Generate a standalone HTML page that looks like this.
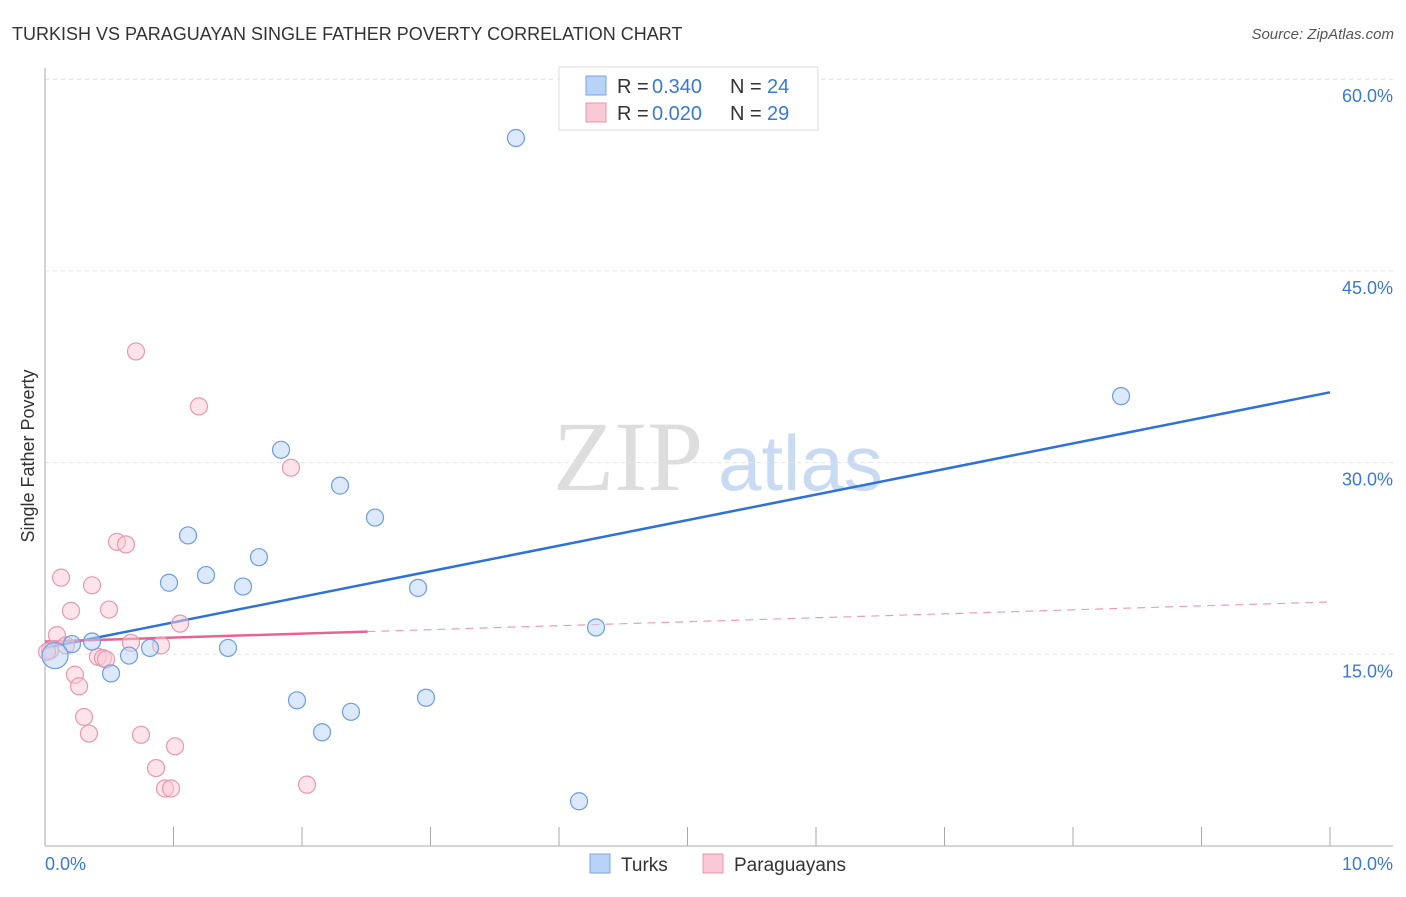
<!DOCTYPE html>
<html><head><meta charset="utf-8"><style>
body{margin:0;background:#fff;font-family:"Liberation Sans",sans-serif;}
svg text{font-family:"Liberation Sans",sans-serif;}
</style></head><body>
<svg width="1406" height="892" viewBox="0 0 1406 892">
<text x="12" y="40" font-size="18" fill="#333">TURKISH VS PARAGUAYAN SINGLE FATHER POVERTY CORRELATION CHART</text>
<text x="1394" y="39" font-size="15" fill="#555" font-style="italic" text-anchor="end">Source: ZipAtlas.com</text>
<text transform="translate(34,456) rotate(-90)" font-size="18" fill="#333" text-anchor="middle">Single Father Poverty</text>
<g id="wm"><text x="553" y="490" font-size="100" fill="#ddd" style="font-family:'Liberation Serif',serif">ZIP</text><text x="718" y="490" font-size="78" fill="#c9daf3">atlas</text></g>
<g id="grid"></g><g id="axes"></g><g id="trend"></g><g id="pts"></g>
<g>
<rect x="559" y="67" width="259" height="63" fill="#fff" stroke="#ddd"/>
<rect x="586" y="76" width="20" height="19" fill="#b8d3f5" stroke="#7aa6e0"/>
<rect x="586" y="103" width="20" height="19" fill="#f9c9d6" stroke="#e898b0"/>
<text y="93" font-size="20" fill="#333"><tspan x="617">R = </tspan><tspan x="652" fill="#3a78d8">0.340</tspan><tspan x="730">N = </tspan><tspan x="767" fill="#3a78d8">24</tspan></text>
<text y="120" font-size="20" fill="#333"><tspan x="617">R = </tspan><tspan x="652" fill="#3a78d8">0.020</tspan><tspan x="730">N = </tspan><tspan x="767" fill="#3a78d8">29</tspan></text>
</g>
<g>
<rect x="590" y="854" width="20" height="19" fill="#b8d3f5" stroke="#7aa6e0"/>
<text x="621" y="871" font-size="19" fill="#333">Turks</text>
<rect x="703" y="854" width="20" height="19" fill="#f9c9d6" stroke="#e898b0"/>
<text x="734" y="871" font-size="19" fill="#333">Paraguayans</text>
</g>
</svg>
<script>
const xTicks=[0,1,2,3,4,5,6,7,8,9,10];
const yTicks=[15,30,45,60];
const yTickLabels=["15.0%","30.0%","45.0%","60.0%"];
const xEndLabels=["0.0%","10.0%"];
const turksX=[3.665,8.374,1.837,2.296,2.568,1.113,1.665,1.253,0.965,1.541,2.903,4.288,0.366,0.210,0.817,1.424,0.654,0.514,1.961,2.965,2.381,2.156,4.156,0.078];
const turksY=[55.4,35.2,31.0,28.2,25.7,24.3,22.6,21.2,20.6,20.3,20.2,17.1,16.0,15.8,15.5,15.5,14.9,13.5,11.4,11.6,10.5,8.9,3.5,14.9];
const parX=[0.708,1.198,1.914,0.560,0.630,0.125,0.366,0.202,0.498,1.051,0.093,0.669,0.903,0.163,0.039,0.412,0.451,0.475,0.233,0.265,0.304,0.342,0.747,1.012,0.864,0.934,0.981,2.039,0.016];
const parY=[38.7,34.4,29.6,23.8,23.6,21.0,20.4,18.4,18.5,17.4,16.5,15.9,15.7,15.7,15.3,14.8,14.7,14.6,13.4,12.5,10.1,8.8,8.7,7.8,6.1,4.5,4.5,4.8,15.2];
const turksTrend=[15.5,35.5];
const parTrend=[16.0,19.1];
const parSolidEnd=2.51;
const NS="http://www.w3.org/2000/svg";
const sx=v=>45+v*128.5;
const sy=v=>846-v/0.07825;
function mk(tag,attrs,parent){const e=document.createElementNS(NS,tag);for(const k in attrs)e.setAttribute(k,attrs[k]);document.getElementById(parent).appendChild(e);return e;}
mk('line',{x1:45,y1:79,x2:1393,y2:79,stroke:'#e4e4e4','stroke-dasharray':'4,4'},'grid');
yTicks.forEach((t,i)=>{
 const g=mk('line',{x1:45,y1:sy(t),x2:1393,y2:sy(t),stroke:'#e4e4e4','stroke-dasharray':'4,4'},'grid');
 
 
 const l=mk('text',{x:1393,y:sy(t)+23,'font-size':18,fill:'#3a78d8','text-anchor':'end'},'grid');
 l.textContent=yTickLabels[i];
 
 
});
const ya=mk('line',{x1:45,y1:68,x2:45,y2:846,stroke:'#aaa'},'axes');


const xa=mk('line',{x1:45,y1:846,x2:1393,y2:846,stroke:'#aaa'},'axes');


xTicks.forEach(t=>{
 const tk=mk('line',{x1:sx(t),y1:827,x2:sx(t),y2:846,stroke:'#aaa'},'axes');
 
 
});
const l0=mk('text',{x:45,y:870,'font-size':18,fill:'#3a78d8'},'axes');l0.textContent=xEndLabels[0];


const l1=mk('text',{x:1393,y:870,'font-size':18,fill:'#3a78d8','text-anchor':'end'},'axes');l1.textContent=xEndLabels[1];


function pt(x,y,f,s,r,name){const c=mk('circle',{cx:sx(x),cy:sy(y),r:r,fill:f,'fill-opacity':0.5,stroke:s,'stroke-width':1.2},'pts');
 
 }
parX.forEach((x,i)=>pt(x,parY[i],'#f9c9d6','#e898b0',8.5,'paraguayan-point'));
turksX.forEach((x,i)=>pt(x,turksY[i],'#b8d3f5','#6d9de0',i===turksX.length-1?13:8.5,'turk-point'));
const tl=mk('line',{x1:sx(0),y1:sy(turksTrend[0]),x2:sx(10),y2:sy(turksTrend[1]),stroke:'#2e72d8','stroke-width':2.5},'trend');


const pAt=x=>parTrend[0]+(parTrend[1]-parTrend[0])*x/10;
const ps=mk('line',{x1:sx(0),y1:sy(pAt(0)),x2:sx(parSolidEnd),y2:sy(pAt(parSolidEnd)),stroke:'#e8648e','stroke-width':2.5},'trend');


const pd=mk('line',{x1:sx(parSolidEnd),y1:sy(pAt(parSolidEnd)),x2:sx(10),y2:sy(pAt(10)),stroke:'#e8a0b8','stroke-width':1.2,'stroke-dasharray':'8,6'},'trend');


</script>
</body></html>
